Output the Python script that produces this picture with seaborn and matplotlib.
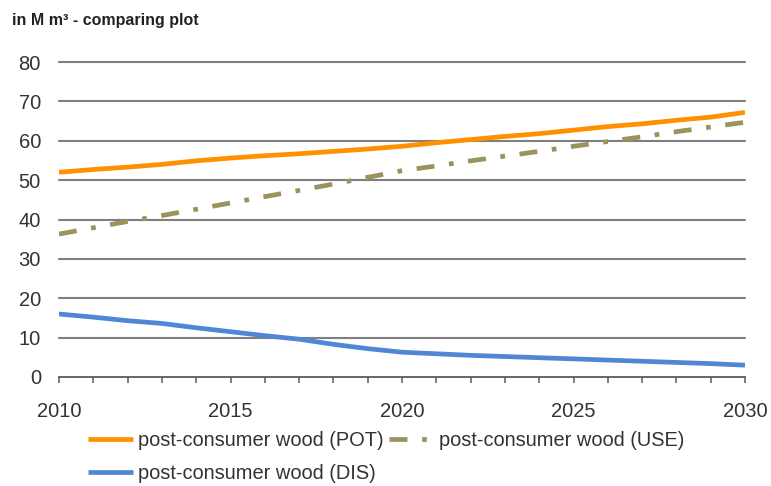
import matplotlib
matplotlib.use("Agg")
import matplotlib.pyplot as plt
from matplotlib.ticker import MultipleLocator
import seaborn as sns
import pandas as pd

years = list(range(2010, 2031))
pot = [52.0, 52.7, 53.3, 54.0, 54.9, 55.6, 56.2, 56.7, 57.3, 57.9, 58.6,
       59.5, 60.3, 61.1, 61.8, 62.7, 63.6, 64.3, 65.2, 66.0, 67.2]
use = [36.3, 37.9, 39.5, 41.0, 42.6, 44.2, 45.8, 47.4, 49.0, 50.7, 52.4,
       53.6, 54.9, 56.1, 57.3, 58.6, 59.8, 61.0, 62.3, 63.5, 64.7]
dis = [16.0, 15.2, 14.3, 13.6, 12.5, 11.5, 10.5, 9.6, 8.3, 7.2, 6.3,
       5.9, 5.5, 5.2, 4.9, 4.6, 4.3, 4.0, 3.7, 3.4, 3.0]
labels = ["post-consumer wood (POT)", "post-consumer wood (USE)", "post-consumer wood (DIS)"]
title = "in M m³ - comparing plot"

sns.set_style("white")
plt.rcParams["font.family"] = ["Liberation Sans", "DejaVu Sans"]

fig = plt.figure(figsize=(7.71, 4.86), dpi=100)
ax = fig.add_axes([59 / 771, 1 - 377 / 486, (745 - 59) / 771, (377 - 62) / 486])

df = pd.DataFrame({"year": years, "POT": pot, "USE": use, "DIS": dis})

sns.lineplot(data=df, x="year", y="POT", ax=ax, color="#ff9000", lw=3.4,
             label=labels[0], solid_capstyle="butt")
sns.lineplot(data=df, x="year", y="DIS", ax=ax, color="#4f86d6", lw=3.4,
             label=labels[2], solid_capstyle="butt")
sns.lineplot(data=df, x="year", y="USE", ax=ax, color="#9a935c", lw=3.4,
             label=labels[1], linestyle=(0, (3.8, 3.1, 1.0, 3.1)),
             dash_capstyle="butt")

ax.set_xlim(2010, 2030)
ax.set_ylim(0, 80)
ax.set_xlabel("")
ax.set_ylabel("")

# horizontal gridlines
ax.yaxis.set_major_locator(MultipleLocator(10))
for v in range(10, 81, 10):
    ax.axhline(v, color="#7f7f7f", lw=1.5, zorder=0, clip_on=False)

for s in ["top", "right", "left"]:
    ax.spines[s].set_visible(False)
ax.spines["bottom"].set_color("#5a5a5a")
ax.spines["bottom"].set_linewidth(1.3)

ax.xaxis.set_major_locator(MultipleLocator(5))
ax.xaxis.set_minor_locator(MultipleLocator(1))
ax.tick_params(axis="x", which="both", direction="out", length=4.5, width=1.1,
               color="#5a5a5a", bottom=True)
ax.tick_params(axis="x", which="major", pad=13.5, labelsize=14.5, labelcolor="#333333")
ax.tick_params(axis="y", length=0, pad=13, labelsize=14.5, labelcolor="#333333")

ax.get_legend().remove()
h, l = ax.get_legend_handles_labels()
handle_map = dict(zip(l, h))
leg = fig.legend([handle_map[labels[0]], handle_map[labels[2]], handle_map[labels[1]]],
                 [labels[0], labels[2], labels[1]],
                 ncol=2, loc="upper left", bbox_to_anchor=(80 / 771, 1 - 423 / 486),
                 frameon=False, handlelength=2.25, handletextpad=0.25,
                 columnspacing=0.25, labelspacing=0.72, borderaxespad=0.0,
                 prop={"size": 14.4})
for t in leg.get_texts():
    t.set_color("#333333")

fig.text(12 / 771, 1 - 21 / 486, title, fontsize=11.5, fontweight="bold",
         color="#222222", va="center", ha="left")

fig.savefig("out.png", dpi=100)
